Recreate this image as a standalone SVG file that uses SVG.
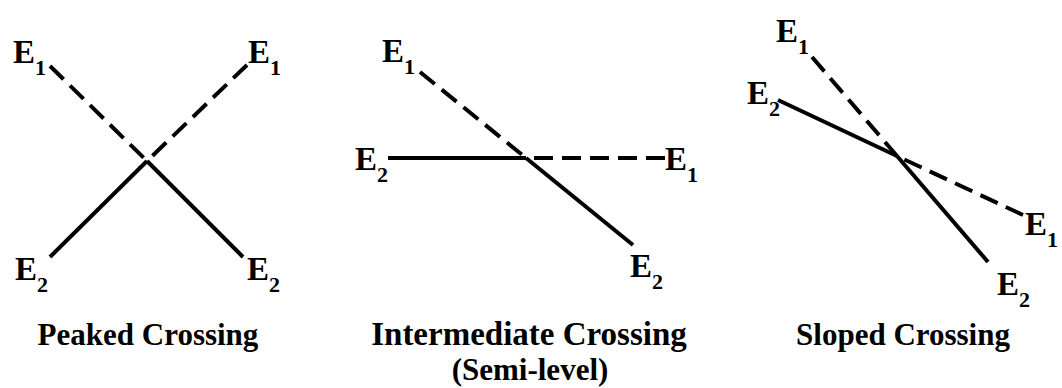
<svg xmlns="http://www.w3.org/2000/svg" width="1062" height="388" viewBox="0 0 1062 388">
<style>
.lbl{font-family:"Liberation Serif","Times New Roman",serif;font-weight:bold;font-size:33px;fill:#000}
.sub{font-size:22px}
.cap{font-family:"Liberation Serif","Times New Roman",serif;font-weight:bold;font-size:31px;fill:#000;text-anchor:middle}
.solid{stroke:#000;stroke-width:4;fill:none}
.dash{stroke:#000;stroke-width:4;fill:none;stroke-dasharray:19 9}
</style>
<rect width="1062" height="388" fill="#fff"/>
<g id="connectors">
<path class="dash" d="M50,66 L147,161"/>
<path class="solid" d="M147,161 L243,257"/>
<path class="dash" d="M247,65 L147,161"/>
<path class="solid" d="M147,161 L50,257"/>
<path class="dash" d="M420,72 L526,158"/>
<path class="solid" d="M526,158 L633,245"/>
<path class="solid" d="M388,158 L526,158"/>
<path class="dash" d="M665,158 L526,158"/>
<path class="dash" d="M812,57 L897,156"/>
<path class="solid" d="M897,156 L988,262"/>
<path class="solid" d="M778,100 L897,156"/>
<path class="dash" d="M1023,215 L897,156"/>
</g>
<g id="peaked">
<text class="lbl" x="13" y="63">E<tspan class="sub" dy="12">1</tspan></text>
<text class="lbl" x="248" y="63">E<tspan class="sub" dy="12">1</tspan></text>
<text class="lbl" x="15" y="280">E<tspan class="sub" dy="12">2</tspan></text>
<text class="lbl" x="247" y="280">E<tspan class="sub" dy="12">2</tspan></text>
<text class="cap" x="148" y="345">Peaked Crossing</text>
</g>
<g id="intermediate">
<text class="lbl" x="382" y="62">E<tspan class="sub" dy="12">1</tspan></text>
<text class="lbl" x="355" y="170">E<tspan class="sub" dy="12">2</tspan></text>
<text class="lbl" x="665" y="170">E<tspan class="sub" dy="12">1</tspan></text>
<text class="lbl" x="630" y="277">E<tspan class="sub" dy="12">2</tspan></text>
<text class="cap" x="529" y="345" style="font-size:33px">Intermediate Crossing</text>
<text class="cap" x="530" y="380">(Semi-level)</text>
</g>
<g id="sloped">
<text class="lbl" x="776" y="42">E<tspan class="sub" dy="12">1</tspan></text>
<text class="lbl" x="747" y="104">E<tspan class="sub" dy="12">2</tspan></text>
<text class="lbl" x="1025" y="235">E<tspan class="sub" dy="12">1</tspan></text>
<text class="lbl" x="997" y="295">E<tspan class="sub" dy="12">2</tspan></text>
<text class="cap" x="903" y="345">Sloped Crossing</text>
</g>
</svg>
